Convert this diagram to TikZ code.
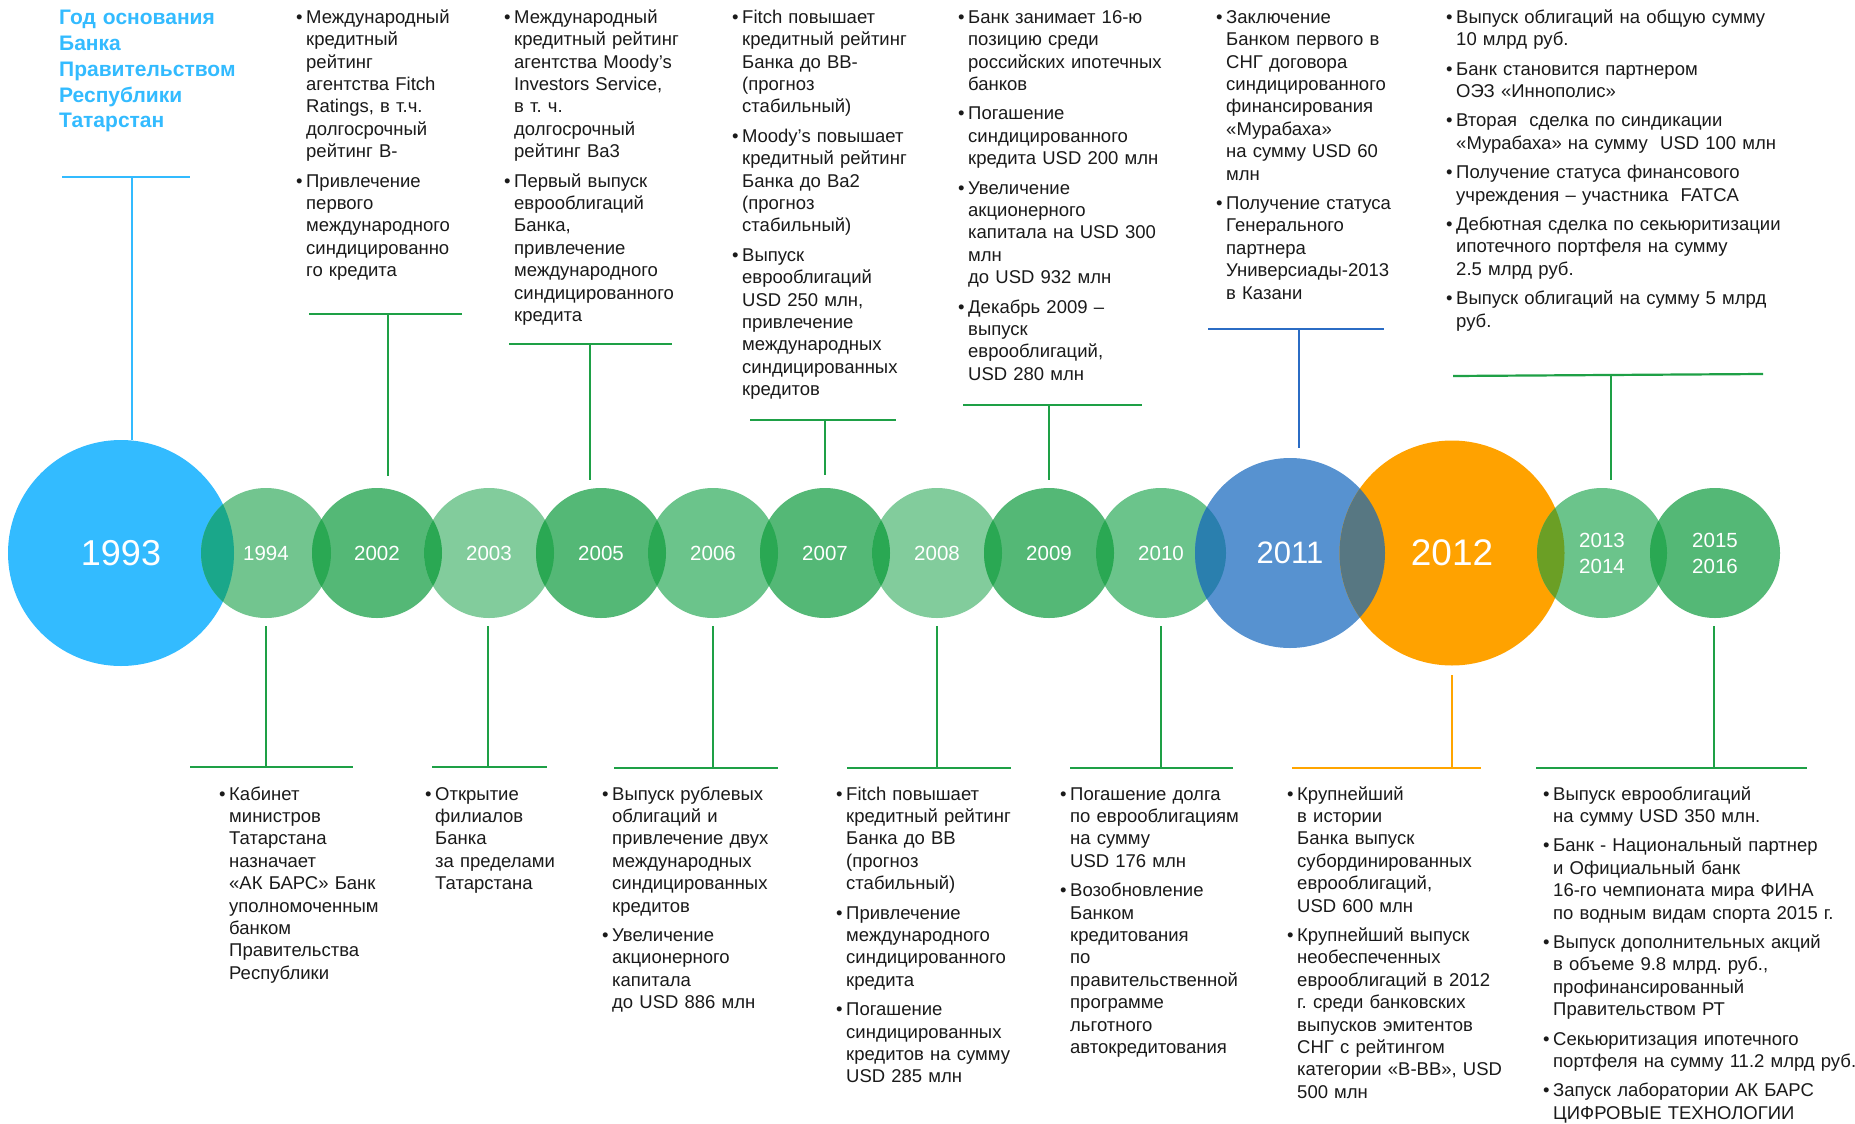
\documentclass[tikz,border=0pt]{standalone}
\usepackage{fontspec}
\setmainfont{Liberation Sans}
\frenchspacing
\definecolor{cA}{HTML}{33BBFF}
\definecolor{gM}{HTML}{72C58F}
\definecolor{gD}{HTML}{54B876}
\definecolor{gL}{HTML}{82CC9C}
\definecolor{gN}{HTML}{6BC48B}
\definecolor{gO}{HTML}{2AA853}
\definecolor{oAB}{HTML}{1AA78A}
\definecolor{oGB}{HTML}{2A7FAE}
\definecolor{cB}{HTML}{5792D0}
\definecolor{oBO}{HTML}{577782}
\definecolor{cO}{HTML}{FFA200}
\definecolor{oOG}{HTML}{6B9F25}
\definecolor{lg}{HTML}{1EA046}
\definecolor{lb}{HTML}{2B6CC4}
\definecolor{lo}{HTML}{FFA500}
\definecolor{txt}{HTML}{1A1A1A}
\newcommand\bl{\leavevmode\llap{•\hspace{3.5pt}}}
\newcommand\mylens[5]{\begin{scope}\clip (#1.center) circle[radius=#2pt];\fill[#5] (#3.center) circle[radius=#4pt];\end{scope}}
\tikzset{
 yr/.style={circle, inner sep=0pt, text=white, align=center, font=\fontsize{20.5}{26}\selectfont},
 blk/.style={anchor=base west, inner sep=0pt, text width=360pt, align=left, text=txt, font=\fontsize{18.5}{22.4}\selectfont\frenchspacing},
 gbar/.style={draw=lg, line width=2.2pt},
 gvert/.style={draw=lg, line width=1.5pt},
}
\begin{document}
\begin{tikzpicture}[x=1pt,y=-1pt]
\useasboundingbox (0,0) rectangle (1855,1124);
\fill[white] (0,0) rectangle (1855,1124);
% circles
\node[yr, fill=cA, minimum size=226pt, font=\fontsize{36}{40}\selectfont] (y1993) at (121,553) {1993};
\node[yr, fill=gM, minimum size=130pt] (y1994) at (266,553) {1994};
\node[yr, fill=gD, minimum size=130pt] (y2002) at (377,553) {2002};
\node[yr, fill=gL, minimum size=130pt] (y2003) at (489,553) {2003};
\node[yr, fill=gD, minimum size=130pt] (y2005) at (601,553) {2005};
\node[yr, fill=gN, minimum size=130pt] (y2006) at (713,553) {2006};
\node[yr, fill=gD, minimum size=130pt] (y2007) at (825,553) {2007};
\node[yr, fill=gL, minimum size=130pt] (y2008) at (937,553) {2008};
\node[yr, fill=gD, minimum size=130pt] (y2009) at (1049,553) {2009};
\node[yr, fill=gN, minimum size=130pt] (y2010) at (1161,553) {2010};
\node[yr, fill=cB, minimum size=190pt, font=\fontsize{31}{34}\selectfont] (y2011) at (1290,553) {2011};
\node[yr, fill=cO, minimum size=225pt, font=\fontsize{37}{40}\selectfont] (y2012) at (1452,553) {2012};
\node[yr, fill=gN, minimum size=130pt] (y2013) at (1602,553) {2013\\[0pt]2014};
\node[yr, fill=gD, minimum size=130pt] (y2015) at (1715,553) {2015\\[0pt]2016};
% overlaps
\mylens{y1993}{113}{y1994}{65}{oAB}
\mylens{y1994}{65}{y2002}{65}{gO}
\mylens{y2002}{65}{y2003}{65}{gO}
\mylens{y2003}{65}{y2005}{65}{gO}
\mylens{y2005}{65}{y2006}{65}{gO}
\mylens{y2006}{65}{y2007}{65}{gO}
\mylens{y2007}{65}{y2008}{65}{gO}
\mylens{y2008}{65}{y2009}{65}{gO}
\mylens{y2009}{65}{y2010}{65}{gO}
\mylens{y2010}{65}{y2011}{95}{oGB}
\mylens{y2011}{95}{y2012}{112.5}{oBO}
\mylens{y2012}{112.5}{y2013}{65}{oOG}
\mylens{y2013}{65}{y2015}{65}{gO}
% top connectors
\coordinate (a1993l) at (62,177); \coordinate (a1993r) at (190,177); \coordinate (a1993) at (132,177);
\draw[draw=cA, line width=2pt] (a1993l) -- (a1993r);
\draw[draw=cA, line width=1.8pt] (a1993) -- (a1993 |- y1993.north);
\coordinate (a2002l) at (309,314); \coordinate (a2002r) at (462,314); \coordinate (a2002) at (388,314); \coordinate (e2002) at (388,476);
\draw[gbar] (a2002l) -- (a2002r); \draw[gvert] (a2002) -- (e2002);
\coordinate (a2005l) at (509,344); \coordinate (a2005r) at (672,344); \coordinate (a2005) at (590,344); \coordinate (e2005) at (590,480);
\draw[gbar] (a2005l) -- (a2005r); \draw[gvert] (a2005) -- (e2005);
\coordinate (a2007l) at (750,420); \coordinate (a2007r) at (896,420); \coordinate (a2007) at (825,420); \coordinate (e2007) at (825,475);
\draw[gbar] (a2007l) -- (a2007r); \draw[gvert] (a2007) -- (e2007);
\coordinate (a2009l) at (963,405); \coordinate (a2009r) at (1142,405); \coordinate (a2009) at (1049,405); \coordinate (e2009) at (1049,480);
\draw[gbar] (a2009l) -- (a2009r); \draw[gvert] (a2009) -- (e2009);
\coordinate (a2011l) at (1208,329); \coordinate (a2011r) at (1384,329); \coordinate (a2011) at (1299,329); \coordinate (e2011) at (1299,448);
\draw[draw=lb, line width=2.2pt] (a2011l) -- (a2011r); \draw[draw=lb, line width=1.5pt] (a2011) -- (e2011);
\coordinate (a2013l) at (1453,376); \coordinate (a2013r) at (1763,374); \coordinate (a2013) at (1611,375); \coordinate (e2013) at (1611,480);
\draw[gbar] (a2013l) -- (a2013r); \draw[gvert] (a2013) -- (e2013);
% bottom connectors
\coordinate (b1994) at (266,626); \coordinate (f1994) at (266,767); \coordinate (b1994l) at (190,767); \coordinate (b1994r) at (353,767);
\draw[gvert] (b1994) -- (f1994); \draw[gbar] (b1994l) -- (b1994r);
\coordinate (b2003) at (488,626); \coordinate (f2003) at (488,767); \coordinate (b2003l) at (432,767); \coordinate (b2003r) at (547,767);
\draw[gvert] (b2003) -- (f2003); \draw[gbar] (b2003l) -- (b2003r);
\coordinate (b2006) at (713,626); \coordinate (f2006) at (713,768); \coordinate (b2006l) at (614,768); \coordinate (b2006r) at (778,768);
\draw[gvert] (b2006) -- (f2006); \draw[gbar] (b2006l) -- (b2006r);
\coordinate (b2008) at (937,626); \coordinate (f2008) at (937,768); \coordinate (b2008l) at (847,768); \coordinate (b2008r) at (1011,768);
\draw[gvert] (b2008) -- (f2008); \draw[gbar] (b2008l) -- (b2008r);
\coordinate (b2010) at (1161,626); \coordinate (f2010) at (1161,768); \coordinate (b2010l) at (1070,768); \coordinate (b2010r) at (1233,768);
\draw[gvert] (b2010) -- (f2010); \draw[gbar] (b2010l) -- (b2010r);
\coordinate (b2012) at (1452,675); \coordinate (f2012) at (1452,768); \coordinate (b2012l) at (1292,768); \coordinate (b2012r) at (1481,768);
\draw[draw=lo, line width=1.5pt] (b2012) -- (f2012); \draw[draw=lo, line width=2.2pt] (b2012l) -- (b2012r);
\coordinate (b2015) at (1714,626); \coordinate (f2015) at (1714,768); \coordinate (b2015l) at (1536,768); \coordinate (b2015r) at (1807,768);
\draw[gvert] (b2015) -- (f2015); \draw[gbar] (b2015l) -- (b2015r);
% title
\node[blk, text=cA, font=\fontsize{21}{25.7}\selectfont\bfseries] (title) at (59,25) {Год основания\\Банка\\Правительством\\Республики\\Татарстан};
% top texts
\node[blk] (t2002) at (306,23.3) {\bl Международный\\кредитный\\рейтинг\\агентства Fitch\\Ratings, в т.ч.\\долгосрочный\\рейтинг B-\\[7pt]\bl Привлечение\\первого\\международного\\синдицированно\\го кредита};
\node[blk] (t2005) at (514,23.3) {\bl Международный\\кредитный рейтинг\\агентства Moody’s\\Investors Service,\\в т. ч.\\долгосрочный\\рейтинг Ba3\\[7pt]\bl Первый выпуск\\еврооблигаций\\Банка,\\привлечение\\международного\\синдицированного\\кредита};
\node[blk] (t2007) at (742,23.3) {\bl Fitch повышает\\кредитный рейтинг\\Банка до BB-\\(прогноз\\стабильный)\\[7pt]\bl Moody’s повышает\\кредитный рейтинг\\Банка до Ba2\\(прогноз\\стабильный)\\[7pt]\bl Выпуск\\еврооблигаций\\USD 250 млн,\\привлечение\\международных\\синдицированных\\кредитов};
\node[blk] (t2009) at (968,23.3) {\bl Банк занимает 16-ю\\позицию среди\\российских ипотечных\\банков\\[7pt]\bl Погашение\\синдицированного\\кредита USD 200 млн\\[7pt]\bl Увеличение\\акционерного\\капитала на USD 300\\млн\\до USD 932 млн\\[7pt]\bl Декабрь 2009 –\\выпуск\\еврооблигаций,\\USD 280 млн};
\node[blk] (t2011) at (1226,23.3) {\bl Заключение\\Банком первого в\\СНГ договора\\синдицированного\\финансирования\\«Мурабаха»\\на сумму USD 60\\млн\\[7pt]\bl Получение статуса\\Генерального\\партнера\\Универсиады-2013\\в Казани};
\node[blk] (t2013) at (1456,23.3) {\bl Выпуск облигаций на общую сумму\\10 млрд руб.\\[7pt]\bl Банк становится партнером\\ОЭЗ «Иннополис»\\[7pt]\bl Вторая\ \ сделка по синдикации\\«Мурабаха» на сумму\ \ USD 100 млн\\[7pt]\bl Получение статуса финансового\\учреждения – участника\ \ FATCA\\[7pt]\bl Дебютная сделка по секьюритизации\\ипотечного портфеля на сумму\\2.5 млрд руб.\\[7pt]\bl Выпуск облигаций на сумму 5 млрд\\руб.};
% bottom texts
\node[blk] (t1994) at (229,800) {\bl Кабинет\\министров\\Татарстана\\назначает\\«АК БАРС» Банк\\уполномоченным\\банком\\Правительства\\Республики};
\node[blk] (t2003) at (435,800) {\bl Открытие\\филиалов\\Банка\\за пределами\\Татарстана};
\node[blk] (t2006) at (612,800) {\bl Выпуск рублевых\\облигаций и\\привлечение двух\\международных\\синдицированных\\кредитов\\[7pt]\bl Увеличение\\акционерного\\капитала\\до USD 886 млн};
\node[blk] (t2008) at (846,800) {\bl Fitch повышает\\кредитный рейтинг\\Банка до BB\\(прогноз\\стабильный)\\[7pt]\bl Привлечение\\международного\\синдицированного\\кредита\\[7pt]\bl Погашение\\синдицированных\\кредитов на сумму\\USD 285 млн};
\node[blk] (t2010) at (1070,800) {\bl Погашение долга\\по еврооблигациям\\на сумму\\USD 176 млн\\[7pt]\bl Возобновление\\Банком\\кредитования\\по\\правительственной\\программе\\льготного\\автокредитования};
\node[blk] (t2012) at (1297,800) {\bl Крупнейший\\в истории\\Банка выпуск\\субординированных\\еврооблигаций,\\USD 600 млн\\[7pt]\bl Крупнейший выпуск\\необеспеченных\\еврооблигаций в 2012\\г. среди банковских\\выпусков эмитентов\\СНГ с рейтингом\\категории «B-BB», USD\\500 млн};
\node[blk] (t2015) at (1553,800) {\bl Выпуск еврооблигаций\\на сумму USD 350 млн.\\[7pt]\bl Банк - Национальный партнер\\и Официальный банк\\16-го чемпионата мира ФИНА\\по водным видам спорта 2015 г.\\[7pt]\bl Выпуск дополнительных акций\\в объеме 9.8 млрд. руб.,\\профинансированный\\Правительством РТ\\[7pt]\bl Секьюритизация ипотечного\\портфеля на сумму 11.2 млрд руб.\\[7pt]\bl Запуск лаборатории АК БАРС\\ЦИФРОВЫЕ ТЕХНОЛОГИИ};
\end{tikzpicture}
\end{document}
